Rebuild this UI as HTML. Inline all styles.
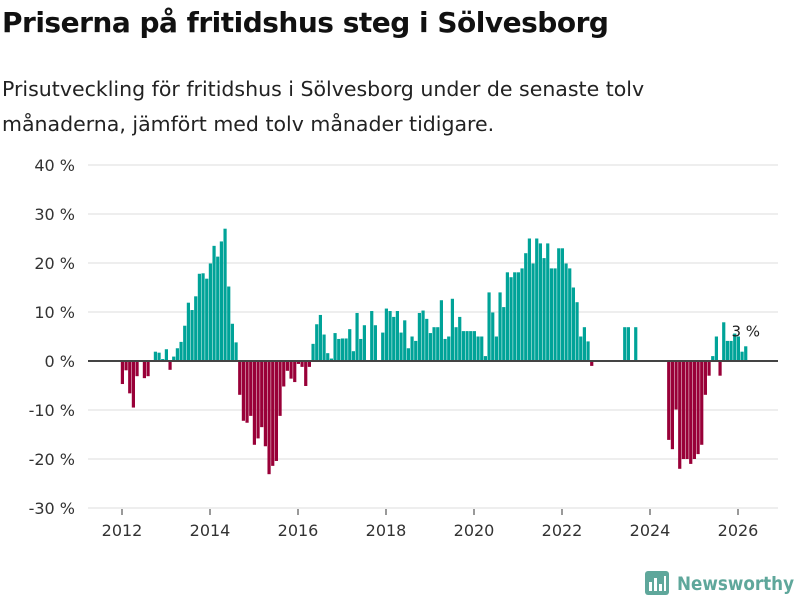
<!DOCTYPE html>
<html><head><meta charset="utf-8"><style>
body{margin:0;background:#fff;font-family:"Liberation Sans","DejaVu Sans",sans-serif;}
#wrap{position:relative;width:800px;height:600px;overflow:hidden;}
h1{position:absolute;left:2px;top:6px;margin:0;font-size:28px;font-weight:bold;color:#111;font-family:"DejaVu Sans","Liberation Sans",sans-serif;letter-spacing:-0.5px}
.sub{position:absolute;left:2px;top:72px;font-size:20.5px;line-height:35px;color:#222;font-family:"DejaVu Sans","Liberation Sans",sans-serif;}
</style></head><body><div id="wrap">
<h1>Priserna på fritidshus steg i Sölvesborg</h1>
<div class="sub">Prisutveckling för fritidshus i Sölvesborg under de senaste tolv<br>månaderna, jämfört med tolv månader tidigare.</div>
<svg id="chart" width="800" height="600" style="position:absolute;left:0;top:0"></svg>
</div>
<script>
const yTicks=[-30,-20,-10,0,10,20,30,40];
const xTickYears=[2012,2014,2016,2018,2020,2022,2024,2026];
const startYear=2012;
const values=[-4.7,-1.9,-6.6,-9.5,-3.1,null,-3.5,-3.1,null,1.9,1.7,0.4,2.4,-1.8,0.9,2.6,3.9,
7.2,11.9,10.4,13.2,17.8,17.9,16.8,19.9,23.5,21.3,24.4,27,15.2,7.6,3.8,
-6.9,-12.2,-12.6,-11.2,-17.1,-15.8,-13.5,-17.4,-23.1,-21.4,-20.4,-11.2,-5.2,-2.0,-3.6,-4.3,-0.6,-1.2,-5.1,-1.2,
3.5,7.5,9.4,5.4,1.6,0.5,5.7,4.5,4.6,4.6,6.5,2.0,9.8,4.5,7.3,null,10.2,7.3,null,
5.8,10.7,10.2,9.0,10.2,5.8,8.3,2.6,5.0,4.1,9.8,10.3,8.6,5.7,6.9,6.9,12.4,4.5,5.0,12.7,6.9,9.0,6.1,6.1,6.1,6.1,5.0,5.0,1.0,14,
9.9,5.0,14,11,18.1,17.1,18.1,18.1,18.9,22,25,19.9,25,24,21,24,18.9,18.9,23,23,19.9,18.9,15,12,5.0,6.9,4.0,-1,
null,null,null,null,null,null,null,null,6.9,6.9,null,6.9,null,null,null,null,null,null,null,null,
-16.1,-18,-9.9,-22,-20,-20,-21,-20,-19,-17.1,-6.9,-3.0,1,5.0,-3.0,7.9,4.1,4.1,5.6,5.0,1.9,3.0];
const lastLabel="3 %";

const NS="http://www.w3.org/2000/svg";
const svg=document.getElementById('chart');
const y=v=>361-v*4.9;
const xYear=yr=>122+(yr-startYear)*44;
const xMonth=i=>122.4+i*44/12;
function mk(t,a){const e=document.createElementNS(NS,t);for(const k in a)e.setAttribute(k,a[k]);svg.appendChild(e);return e;}
yTicks.forEach(t=>{
  if(t!==0){const g=mk('line',{x1:88,x2:778,y1:y(t),y2:y(t),stroke:'#ddd','stroke-width':1});
  
  }
  const l=mk('text',{x:75,y:y(t)+6,'text-anchor':'end','font-size':16,fill:'#333','font-family':'DejaVu Sans, Liberation Sans, sans-serif'});
  l.textContent=t+' %';
  
  
});
xTickYears.forEach(yr=>{
  const tk=mk('line',{x1:xYear(yr),x2:xYear(yr),y1:509,y2:515,stroke:'#333','stroke-width':1});
  
  
  const l=mk('text',{x:xYear(yr),y:536,'text-anchor':'middle','font-size':16,fill:'#333','font-family':'DejaVu Sans, Liberation Sans, sans-serif'});
  l.textContent=yr;
  
  
});
values.forEach((v,i)=>{
  if(v===null)return;
  const cx=xMonth(i);
  const r=mk('rect',{x:cx-1.6,width:3.2,y:Math.min(y(v),y(0)),height:Math.abs(y(v)-y(0)),fill:v>=0?'#00a398':'#990038'});
  
  
});
const base=mk('line',{x1:88,x2:778,y1:y(0),y2:y(0),stroke:'#444','stroke-width':2});


const li=values.length-1;
const lab=mk('text',{x:xMonth(li),y:y(values[li])-10,'text-anchor':'middle','font-size':15,fill:'#222','font-family':'DejaVu Sans, Liberation Sans, sans-serif'});
lab.textContent=lastLabel;


const lg=document.createElementNS(NS,'g');svg.appendChild(lg);


lg.innerHTML='<rect x="645" y="571" width="24" height="24" rx="3" fill="#5fa79b"/><rect x="649" y="582" width="3" height="9" fill="#fff"/><rect x="654" y="578" width="3" height="13" fill="#fff"/><rect x="659" y="584" width="3" height="7" fill="#fff"/><rect x="664" y="576" width="2" height="15" fill="#fff"/><text x="677" y="590" font-size="19" font-weight="bold" fill="#5fa79b" textLength="117" lengthAdjust="spacingAndGlyphs" font-family="DejaVu Sans, Liberation Sans, sans-serif">Newsworthy</text>';
</script></body></html>
